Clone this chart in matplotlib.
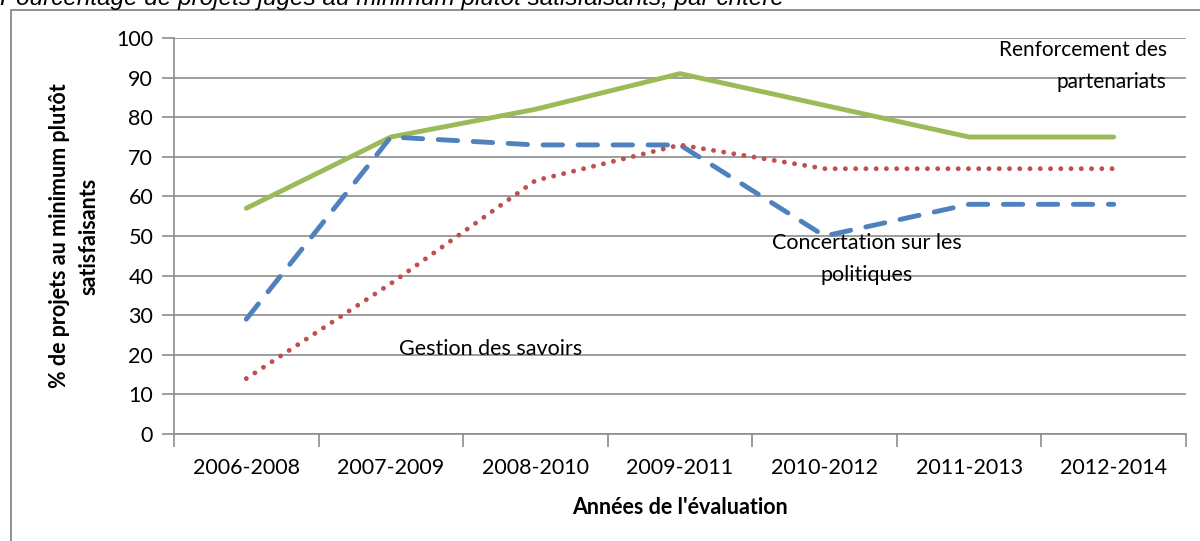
import matplotlib
matplotlib.use("Agg")
import matplotlib.pyplot as plt
from matplotlib.patches import Rectangle

categories = ["2006-2008", "2007-2009", "2008-2010", "2009-2011", "2010-2012", "2011-2013", "2012-2014"]
renforcement = [57, 75, 82, 91, 83, 75, 75]
concertation = [29, 75, 73, 73, 50, 58, 58]
gestion = [14, 38, 64, 73, 67, 67, 67]
yticks = list(range(0, 101, 10))

W, H = 1200, 541
fig = plt.figure(figsize=(W / 100, H / 100), dpi=100)
plt.rcParams['font.family'] = ['Lato', 'DejaVu Sans']

# outer frame
fig.add_artist(Rectangle((11 / W, -0.1), 1.2, (H - 10) / H + 0.1, transform=fig.transFigure,
                         fill=False, edgecolor="#7f7f7f", lw=1.2))

ax = fig.add_axes([174 / W, 1 - 434 / H, (1186 - 174) / W, (434 - 38) / H])
x = list(range(len(categories)))
ax.plot(x, renforcement, color="#9bbb59", lw=3.5, solid_capstyle="round", solid_joinstyle="round")
ax.plot(x, concertation, color="#4f81bd", lw=3.5, linestyle=(0, (4, 3.2)), dash_capstyle="round")
ax.plot(x, gestion, color="#c0504d", lw=3.5, linestyle=(0, (0.01, 2.1)), dash_capstyle="round")

ax.set_xlim(-0.5, len(categories) - 0.5)
ax.set_ylim(0, 100)
ax.set_yticks(yticks)
ax.yaxis.grid(True, color="#8c8c8c", lw=1.2)
ax.set_axisbelow(True)
ax.set_xticks([i - 0.5 for i in range(len(categories) + 1)])
ax.set_xticklabels([])
ax.set_xticks(x, minor=True)
ax.set_xticklabels(categories, minor=True)
ax.tick_params(axis="x", which="major", length=9, color="#8c8c8c", width=1.2)
ax.tick_params(axis="x", which="minor", length=0, pad=17, labelsize=15.5)
ax.tick_params(axis="y", length=9, color="#8c8c8c", width=1.2, labelsize=15.5, pad=6)
for s in ["top", "right"]:
    ax.spines[s].set_visible(False)
for s in ["left", "bottom"]:
    ax.spines[s].set_color("#8c8c8c")
    ax.spines[s].set_linewidth(1.2)

ax.set_xlabel("Années de l'évaluation", fontsize=15.5, fontweight="bold", labelpad=14)
ax.set_ylabel("% de projets au minimum plutôt\nsatisfaisants", fontsize=15.5, fontweight="bold",
              labelpad=12, linespacing=1.5)

ax.text(6.367, 99.5, "Renforcement des\npartenariats", fontsize=15, ha="right", va="top", linespacing=1.75)
ax.text(4.29, 50.8, "Concertation sur les\npolitiques", fontsize=15.5, ha="center", va="top", linespacing=1.75)
ax.text(1.69, 24.0, "Gestion des savoirs", fontsize=15.5, ha="center", va="top")

fig.text(0.0, 1.0 + 2 / H, "Pourcentage de projets jugés au minimum plutôt satisfaisants, par critère",
         fontsize=17.5, style="italic", family="Liberation Sans", ha="left", va="center", color="#000000")

fig.savefig("out.png", dpi=100)
